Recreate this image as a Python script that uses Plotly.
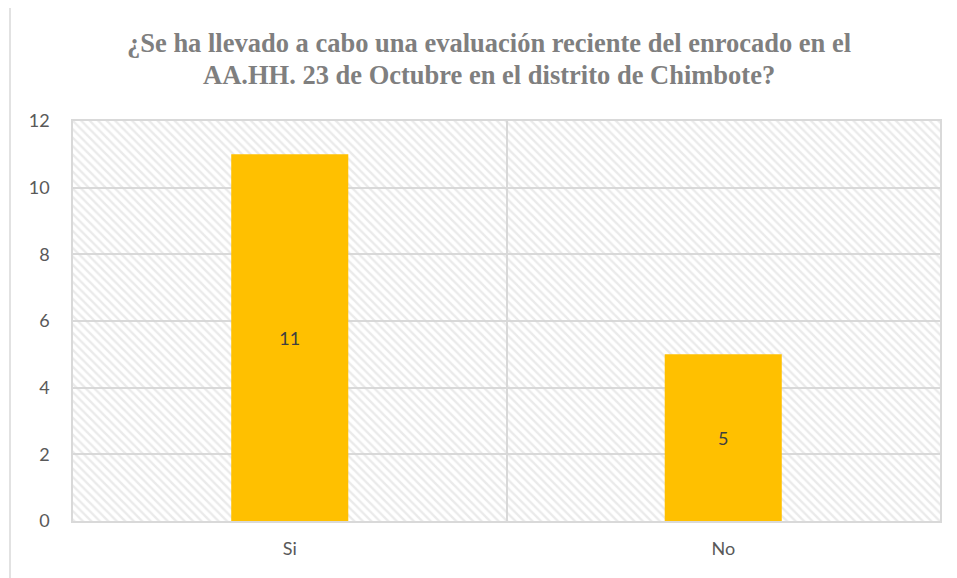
"""Bar chart: evaluación reciente del enrocado (AA.HH. 23 de Octubre)."""
import plotly.graph_objects as go

# data
categories = ['Si', 'No']
counts = [11, 5]
y_max = 12
title_lines = [
    '¿Se ha llevado a cabo una evaluación reciente del enrocado en el',
    'AA.HH. 23 de Octubre en el distrito de Chimbote?',
]

W, H = 957, 578
OFF = 8  # page body margin shifts the figure
L, R, T, B = 73 - OFF, 17 + OFF, 121 - OFF, 57 + OFF


def px_x(px):
    return (px - OFF - L) / (W - L - R)


def px_y(py):
    return (H - B - (py - OFF)) / (H - T - B)


fig = go.Figure()

# hatched plot background (one full-width band per category)
fig.add_trace(go.Bar(
    x=categories,
    y=[y_max] * len(categories),
    width=1,
    marker=dict(
        color='rgba(0,0,0,0)',
        line=dict(width=0),
        pattern=dict(shape='\\', fgcolor='#d6d6d6', bgcolor='rgba(0,0,0,0)',
                     size=6, solidity=0.4),
    ),
    hoverinfo='skip',
    showlegend=False,
))

# data bars
fig.add_trace(go.Bar(
    x=categories,
    y=counts,
    width=0.27,
    text=counts,
    textposition='inside',
    insidetextanchor='middle',
    textfont=dict(family='Lato', size=18, color='#404040'),
    marker=dict(color='#FFC000', line=dict(width=0)),
    showlegend=False,
))

fig.update_layout(
    width=W, height=H,
    barmode='overlay',
    paper_bgcolor='white',
    plot_bgcolor='white',
    margin=dict(l=L, r=R, t=T, b=B),
    font=dict(family='Lato', size=18, color='#595959'),
    showlegend=False,
)

fig.update_xaxes(
    type='category',
    tickson='boundaries',
    showgrid=True, gridcolor='#d9d9d9', gridwidth=1.5,
    showline=True, linecolor='#d9d9d9', linewidth=1.5, mirror=True,
    ticks='', ticklabelstandoff=11,
)
fig.update_yaxes(
    range=[0, y_max], dtick=2,
    showgrid=True, gridcolor='#d9d9d9', gridwidth=1.5,
    zeroline=False,
    showline=True, linecolor='#d9d9d9', linewidth=1.5, mirror=True,
    ticks='', ticklabelstandoff=18,
)

# title, two lines placed separately
for i, line in enumerate(title_lines):
    fig.add_annotation(
        text=line,
        xref='paper', yref='paper',
        x=px_x(489), y=px_y(43 + 32 * i),
        xanchor='center', yanchor='middle',
        showarrow=False,
        font=dict(family='Liberation Serif, serif',
                  size=26.5, color='#7f7f7f', weight='bold'),
    )

# chart frame
fig.add_shape(
    type='rect', xref='paper', yref='paper',
    x0=px_x(10), x1=px_x(1000), y0=px_y(620), y1=px_y(6.5),
    line=dict(color='#d9d9d9', width=1.5),
    layer='below',
)

fig.write_html('out.html')
